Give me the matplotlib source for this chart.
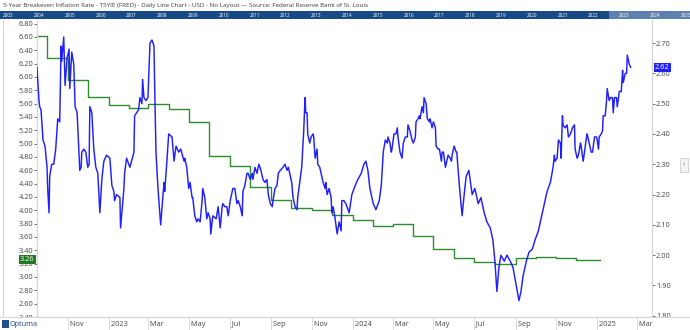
import matplotlib.pyplot as plt
import matplotlib.dates as mdates
from matplotlib.patches import Rectangle
import numpy as np
import pandas as pd

plt.rcParams['font.family'] = ['Open Sans', 'DejaVu Sans']

title = ("5-Year Breakeven Inflation Rate - T5YIE (FRED) - Daily Line Chart - USD - "
         "No Layout \u2014 Source: Federal Reserve Bank of St. Louis")

# monthly series on the left axis (green steps)
cpi_dates = ["2022-09-01", "2022-10-01", "2022-11-01", "2022-12-01",
             "2023-01-01", "2023-02-01", "2023-03-01", "2023-04-01", "2023-05-01", "2023-06-01",
             "2023-07-01", "2023-08-01", "2023-09-01", "2023-10-01", "2023-11-01", "2023-12-01",
             "2024-01-01", "2024-02-01", "2024-03-01", "2024-04-01", "2024-05-01", "2024-06-01",
             "2024-07-01", "2024-08-01", "2024-09-01", "2024-10-01", "2024-11-01", "2024-12-01",
             "2025-01-05"]
cpi_values = [6.62, 6.28, 5.95, 5.70,
              5.58, 5.54, 5.59, 5.52, 5.33, 4.82,
              4.66, 4.35, 4.15, 4.03, 4.01, 3.93,
              3.86, 3.76, 3.80, 3.62, 3.42, 3.28,
              3.22, 3.19, 3.29, 3.30, 3.29, 3.26,
              3.26]

# T5YIE daily (right axis)
be_dates = [
    "2022-09-16", "2022-09-17", "2022-09-19", "2022-09-20", "2022-09-22", "2022-09-25", "2022-09-28",
    "2022-10-01", "2022-10-02", "2022-10-04", "2022-10-05", "2022-10-08", "2022-10-11", "2022-10-14",
    "2022-10-17", "2022-10-20", "2022-10-22", "2022-10-23", "2022-10-26", "2022-10-28", "2022-10-31",
    "2022-11-03", "2022-11-04", "2022-11-07", "2022-11-10", "2022-11-12", "2022-11-15", "2022-11-19",
    "2022-11-21", "2022-11-22", "2022-11-25", "2022-11-28",
    "2022-12-01", "2022-12-03", "2022-12-04", "2022-12-07", "2022-12-10", "2022-12-13", "2022-12-16",
    "2022-12-19", "2022-12-22", "2022-12-25", "2022-12-29",
    "2023-01-03", "2023-01-04", "2023-01-06", "2023-01-09", "2023-01-10", "2023-01-13", "2023-01-18",
    "2023-01-19", "2023-01-24", "2023-01-25", "2023-01-28",
    "2023-02-02", "2023-02-08", "2023-02-09", "2023-02-15", "2023-02-17", "2023-02-20", "2023-02-21",
    "2023-02-23", "2023-02-26",
    "2023-03-01", "2023-03-04", "2023-03-07", "2023-03-10", "2023-03-11", "2023-03-13", "2023-03-16",
    "2023-03-20", "2023-03-25", "2023-03-26", "2023-03-29",
    "2023-04-01", "2023-04-06", "2023-04-09", "2023-04-12", "2023-04-16", "2023-04-19", "2023-04-24",
    "2023-04-25", "2023-04-28",
    "2023-05-01", "2023-05-03", "2023-05-06", "2023-05-07", "2023-05-10", "2023-05-13", "2023-05-15",
    "2023-05-18", "2023-05-21", "2023-05-22", "2023-05-25", "2023-05-28", "2023-05-30",
    "2023-06-02", "2023-06-03", "2023-06-06", "2023-06-11", "2023-06-14", "2023-06-17", "2023-06-20",
    "2023-06-21", "2023-06-24", "2023-06-27", "2023-06-29",
    "2023-07-02", "2023-07-05", "2023-07-06", "2023-07-09", "2023-07-12", "2023-07-14", "2023-07-17",
    "2023-07-20", "2023-07-21", "2023-07-24", "2023-07-27", "2023-07-29",
    "2023-08-01", "2023-08-04", "2023-08-05", "2023-08-08", "2023-08-11", "2023-08-14", "2023-08-17",
    "2023-08-20", "2023-08-23", "2023-08-26", "2023-08-28", "2023-08-31",
    "2023-09-03", "2023-09-04", "2023-09-07", "2023-09-10", "2023-09-12", "2023-09-15", "2023-09-19",
    "2023-09-22", "2023-09-25", "2023-09-27", "2023-09-29",
    "2023-10-02", "2023-10-04", "2023-10-07", "2023-10-10", "2023-10-11", "2023-10-14", "2023-10-17",
    "2023-10-20", "2023-10-22", "2023-10-23", "2023-10-25", "2023-10-26", "2023-10-29", "2023-10-31",
    "2023-11-03", "2023-11-04", "2023-11-06", "2023-11-09", "2023-11-10", "2023-11-13", "2023-11-16",
    "2023-11-18", "2023-11-21", "2023-11-22", "2023-11-24", "2023-11-27", "2023-11-30",
    "2023-12-01", "2023-12-03", "2023-12-06", "2023-12-09", "2023-12-12", "2023-12-15", "2023-12-16",
    "2023-12-19", "2023-12-22", "2023-12-27", "2023-12-31",
    "2024-01-05", "2024-01-09", "2024-01-14", "2024-01-18", "2024-01-21", "2024-01-24", "2024-01-27",
    "2024-02-01", "2024-02-05", "2024-02-10", "2024-02-13", "2024-02-16", "2024-02-19", "2024-02-22",
    "2024-02-23", "2024-02-26", "2024-02-28", "2024-02-29",
    "2024-03-03", "2024-03-06", "2024-03-08", "2024-03-09", "2024-03-12", "2024-03-15", "2024-03-17",
    "2024-03-20", "2024-03-23", "2024-03-24", "2024-03-27", "2024-03-30",
    "2024-04-01", "2024-04-04", "2024-04-05", "2024-04-08", "2024-04-10", "2024-04-11", "2024-04-14",
    "2024-04-16", "2024-04-17", "2024-04-20", "2024-04-22", "2024-04-25", "2024-04-26", "2024-04-29",
    "2024-05-01", "2024-05-04", "2024-05-05", "2024-05-08", "2024-05-10", "2024-05-13", "2024-05-14",
    "2024-05-16", "2024-05-19", "2024-05-22", "2024-05-23", "2024-05-26", "2024-05-28", "2024-05-29",
    "2024-06-01", "2024-06-04", "2024-06-05", "2024-06-07", "2024-06-10", "2024-06-13", "2024-06-16",
    "2024-06-19", "2024-06-23", "2024-06-28",
    "2024-07-02", "2024-07-07", "2024-07-11", "2024-07-16", "2024-07-20", "2024-07-25", "2024-07-29",
    "2024-08-01", "2024-08-04", "2024-08-07", "2024-08-10", "2024-08-15", "2024-08-19", "2024-08-24",
    "2024-08-28",
    "2024-09-02", "2024-09-06", "2024-09-09", "2024-09-12", "2024-09-17", "2024-09-21", "2024-09-26",
    "2024-09-30",
    "2024-10-05", "2024-10-09", "2024-10-14", "2024-10-18", "2024-10-23", "2024-10-27", "2024-10-29",
    "2024-10-30",
    "2024-11-02", "2024-11-04", "2024-11-07", "2024-11-08", "2024-11-10", "2024-11-11", "2024-11-14",
    "2024-11-17", "2024-11-19", "2024-11-22", "2024-11-25", "2024-11-28", "2024-11-29",
    "2024-12-02", "2024-12-04", "2024-12-07", "2024-12-08", "2024-12-11", "2024-12-13", "2024-12-16",
    "2024-12-17", "2024-12-20", "2024-12-23", "2024-12-25", "2024-12-28", "2024-12-31",
    "2025-01-01", "2025-01-03", "2025-01-04", "2025-01-07", "2025-01-09", "2025-01-10", "2025-01-13",
    "2025-01-15", "2025-01-16", "2025-01-19", "2025-01-21", "2025-01-24", "2025-01-25", "2025-01-27",
    "2025-01-30", "2025-01-31",
    "2025-02-02", "2025-02-03", "2025-02-06", "2025-02-08", "2025-02-09", "2025-02-12", "2025-02-14",
    "2025-02-15", "2025-02-18", "2025-02-20",
]
be_values = [
    2.62, 2.58, 2.51, 2.49, 2.48, 2.38, 2.36,
    2.29, 2.22, 2.14, 2.26, 2.30, 2.30, 2.35,
    2.45, 2.44, 2.69, 2.64, 2.72, 2.56, 2.65,
    2.68, 2.55, 2.67, 2.63, 2.49, 2.47, 2.28,
    2.29, 2.34, 2.35, 2.34,
    2.29, 2.30, 2.49, 2.47, 2.35, 2.29, 2.27,
    2.14, 2.25, 2.31, 2.33,
    2.32, 2.29, 2.23, 2.21, 2.18, 2.20, 2.19,
    2.09, 2.22, 2.27, 2.32,
    2.29, 2.34, 2.46, 2.48, 2.52, 2.50, 2.58,
    2.52, 2.51,
    2.52, 2.70, 2.71, 2.69, 2.56, 2.34, 2.22,
    2.10, 2.24, 2.21, 2.30,
    2.40, 2.39, 2.31, 2.36, 2.34, 2.35, 2.31,
    2.32, 2.29,
    2.22, 2.24, 2.19, 2.19, 2.13, 2.11, 2.12,
    2.11, 2.18, 2.22, 2.19, 2.12, 2.14,
    2.12, 2.07, 2.13, 2.12, 2.16, 2.09, 2.16,
    2.17, 2.16, 2.16, 2.13,
    2.18, 2.21, 2.22, 2.22, 2.17, 2.18, 2.16,
    2.13, 2.21, 2.23, 2.27, 2.27,
    2.25, 2.27, 2.25, 2.29, 2.27, 2.30, 2.28,
    2.25, 2.24, 2.25, 2.20, 2.17,
    2.16, 2.18, 2.22, 2.23, 2.27, 2.28, 2.29,
    2.30, 2.28, 2.29, 2.27,
    2.24, 2.19, 2.16, 2.15, 2.19, 2.24, 2.29,
    2.41, 2.52, 2.47, 2.47, 2.40, 2.37, 2.39,
    2.40, 2.39, 2.32, 2.35, 2.30, 2.29, 2.26,
    2.24, 2.22, 2.24, 2.20, 2.22, 2.19,
    2.14, 2.16, 2.12, 2.07, 2.11, 2.08, 2.18,
    2.18, 2.17, 2.14, 2.20,
    2.23, 2.25, 2.27, 2.30, 2.31, 2.28, 2.22,
    2.17, 2.15, 2.18, 2.23, 2.34, 2.38, 2.37,
    2.39, 2.37, 2.34, 2.35,
    2.40, 2.40, 2.42, 2.39, 2.34, 2.32, 2.37,
    2.39, 2.39, 2.43, 2.41, 2.38,
    2.37, 2.39, 2.44, 2.45, 2.46, 2.45, 2.49,
    2.47, 2.52, 2.50, 2.45, 2.44, 2.45, 2.42,
    2.44, 2.42, 2.36, 2.35, 2.35, 2.31, 2.34,
    2.34, 2.29, 2.32, 2.33, 2.32, 2.31, 2.33,
    2.36, 2.34, 2.34, 2.28, 2.20, 2.13, 2.20,
    2.26, 2.28, 2.20,
    2.22, 2.17, 2.19, 2.14, 2.11, 2.09, 2.05,
    1.98, 1.88, 1.96, 2.00, 1.98, 2.00, 1.98,
    1.96,
    1.90, 1.85, 1.88, 1.93, 1.98, 2.01, 2.02,
    2.05,
    2.08, 2.12, 2.17, 2.21, 2.24, 2.29, 2.33,
    2.31,
    2.32, 2.38, 2.37, 2.32, 2.46, 2.43, 2.42,
    2.43, 2.39, 2.40, 2.42, 2.43, 2.35,
    2.32, 2.33, 2.37, 2.36, 2.31, 2.34, 2.39,
    2.40, 2.37, 2.34, 2.34, 2.39, 2.39,
    2.38, 2.35, 2.39, 2.40, 2.41, 2.46, 2.46,
    2.51, 2.55, 2.51, 2.52, 2.52, 2.47, 2.52,
    2.52, 2.49,
    2.52, 2.54, 2.54, 2.61, 2.57, 2.60, 2.60,
    2.66, 2.63, 2.62,
]

xtick_dates = ["2022-11-01", "2023-01-01", "2023-03-01", "2023-05-01", "2023-07-01", "2023-09-01",
               "2023-11-01", "2024-01-01", "2024-03-01", "2024-05-01", "2024-07-01", "2024-09-01",
               "2024-11-01", "2025-01-01", "2025-03-01"]
xtick_labels = ["Nov", "2023", "Mar", "May", "Jul", "Sep", "Nov", "2024", "Mar", "May", "Jul", "Sep",
                "Nov", "2025", "Mar"]
nav_years = list(range(2003, 2026))

left_ticks = np.arange(2.40, 6.81, 0.20)
right_ticks = np.arange(1.80, 2.71, 0.10)

W, H = 690, 330
fig = plt.figure(figsize=(W / 100, H / 100), dpi=100)
fig.patch.set_facecolor('white')

fig.text(3 / W, 1 - 6 / H, title, fontsize=4.5, color='#3a3a3a', va='center', ha='left')

# navigator strip
nav = fig.add_axes([0, 1 - 19 / H, 1, 7.8 / H])
nav.set_facecolor('#174a86')
nav.set_xlim(2003 - 2 / 30.8, 2003 + 688 / 30.8)
nav.set_ylim(0, 1)
nav.axvspan(2022.71, 2025.4, color='#5d80ad', lw=0)
for yr in nav_years:
    nav.text(yr + 0.03, 0.5, str(yr), color='white', fontsize=3.3, va='center', ha='left')
nav.set_xticks([])
nav.set_yticks([])
for s in nav.spines.values():
    s.set_visible(False)

grey = '#d6d6d6'
ax = fig.add_axes([37 / W, 13 / H, (652 - 37) / W, (317 - 20) / H])
ax2 = ax.twinx()

cd = pd.to_datetime(cpi_dates)
bd = pd.to_datetime(be_dates)
ax.step(cd, cpi_values, where='post', color='#2e8b2e', lw=1.0, zorder=2)
ax2.plot(bd, be_values, color='#1f1fff', lw=1.05, zorder=3)

ax.set_xlim(pd.Timestamp("2022-09-16"), pd.Timestamp("2025-03-24"))
ax.set_ylim(2.405, 6.854)
ax2.set_ylim(1.796, 2.776)

ax.set_yticks(left_ticks)
ax.set_yticklabels([f"{v:.2f}" for v in left_ticks])
ax2.set_yticks(right_ticks)
ax2.set_yticklabels([f"{v:.2f}" for v in right_ticks])
ax.tick_params(axis='y', direction='out', length=2, width=0.6, pad=0.8, labelsize=5.3,
               colors='#555555', labelcolor='#444444')
ax2.tick_params(axis='y', direction='out', length=2, width=0.6, pad=0.8, labelsize=5.3,
                colors='#555555', labelcolor='#444444')

xt = pd.to_datetime(xtick_dates)
ax.set_xticks(xt)
ax.set_xticklabels([])
ax.tick_params(axis='x', direction='out', length=9.5, width=0.6, colors=grey)
for d, lab in zip(xt, xtick_labels):
    ax.text(mdates.date2num(d), -0.024, " " + lab, transform=ax.get_xaxis_transform(),
            fontsize=5.3, color='#444444', ha='left', va='center', clip_on=False)

for a in (ax, ax2):
    a.spines['top'].set_visible(False)
    for k in ('left', 'right', 'bottom'):
        a.spines[k].set_color(grey)
        a.spines[k].set_linewidth(0.8)

# last value labels
ax.text(-0.004, cpi_values[-1], f"{cpi_values[-1]:.2f}", transform=ax.get_yaxis_transform(),
        ha='right', va='center', fontsize=5.3, color='white', zorder=5, clip_on=False,
        bbox=dict(boxstyle='square,pad=0.15', facecolor='#1f7a1f', edgecolor='none'))
ax2.text(1.005, be_values[-1], f"{be_values[-1]:.2f}", transform=ax2.get_yaxis_transform(),
         ha='left', va='center', fontsize=5.3, color='white', zorder=5, clip_on=False,
         bbox=dict(boxstyle='square,pad=0.15', facecolor='#1f1fff', edgecolor='none'))

# bottom band covers the lowest axis labels, as in the original
for x0, w in ((0, 36.5), (652.5, 37.5)):
    fig.add_artist(Rectangle((x0 / W, 0), w / W, 12.3 / H, transform=fig.transFigure,
                             facecolor='white', edgecolor='none', zorder=3))
fig.add_artist(plt.Line2D([0, 1], [12.8 / H, 12.8 / H], transform=fig.transFigure,
                          color=grey, lw=0.8, zorder=3.5))

# left frame line, side tab and logo
fig.add_artist(plt.Line2D([3 / W, 3 / W], [13 / H, 1 - 20 / H], transform=fig.transFigure,
                          color=grey, lw=0.8))
fig.add_artist(Rectangle((680 / W, 1 - 172 / H), 8 / W, 14 / H, transform=fig.transFigure,
                         facecolor='#f3f3f3', edgecolor='#cfcfcf', lw=0.6))
fig.text(684 / W, 1 - 165 / H, "\u2039", fontsize=5, color='#666666', ha='center', va='center')
fig.add_artist(Rectangle((2 / W, 2 / H), 7 / W, 8 / H, transform=fig.transFigure,
                         facecolor='#1d4f91', edgecolor='none', zorder=4))
fig.text(10 / W, 6 / H, "Optuma", fontsize=5.2, color='#1d3f7a', ha='left', va='center',
         zorder=4)

fig.savefig("out.png", dpi=100)
